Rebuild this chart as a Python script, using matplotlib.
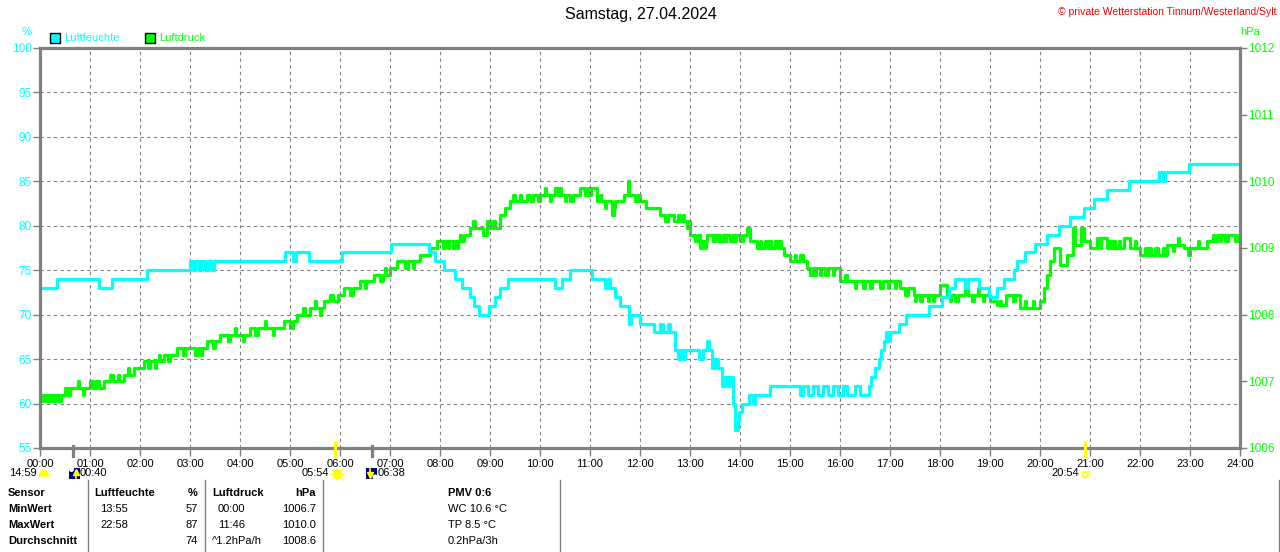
import matplotlib.pyplot as plt
from matplotlib.patches import Rectangle, Circle

plt.rcParams['font.family'] = ['Liberation Sans', 'DejaVu Sans']

CYAN = '#00ffff'
GREEN = '#00ff00'
GRAY = '#808080'
YELLOW = '#ffff00'
NAVY = '#000080'

title = 'Samstag, 27.04.2024'
credit = '\u00a9 private Wetterstation Tinnum/Westerland/Sylt'

hours = list(range(25))
hour_labels = ['%02d:00' % h for h in hours]
hum_ticks = list(range(55, 101, 5))
press_ticks = list(range(1006, 1013))

# humidity (%), step changes: time in hours
hum_time = [0.00, 0.33, 1.17, 1.43, 2.13, 3.00, 3.05, 3.10, 3.17, 3.22, 3.30, 3.35, 3.42, 3.47,
            4.90, 5.05, 5.12, 5.37, 6.03, 7.02, 7.77, 7.90, 8.07, 8.30, 8.45, 8.60, 8.67, 8.77,
            8.98, 9.10, 9.20, 9.37, 10.30, 10.43, 10.60, 11.03, 11.30, 11.35, 11.40, 11.50, 11.60,
            11.77, 11.82, 12.00, 12.27, 12.40, 12.45, 12.55, 12.60, 12.70, 12.75, 12.80, 12.85,
            12.90, 13.17, 13.25, 13.33, 13.38, 13.43, 13.50, 13.55, 13.63, 13.70, 13.75, 13.80,
            13.85, 13.90, 13.95, 13.97, 14.03, 14.17, 14.25, 14.30, 14.60, 15.20, 15.25, 15.35,
            15.45, 15.55, 15.65, 15.75, 15.85, 15.95, 16.05, 16.15, 16.30, 16.40, 16.57, 16.62,
            16.70, 16.77, 16.83, 16.87, 16.92, 16.95, 17.00, 17.17, 17.33, 17.78, 18.03, 18.17,
            18.30, 18.50, 18.56, 18.77, 18.97, 19.13, 19.27, 19.47, 19.53, 19.70, 19.90, 20.13,
            20.37, 20.60, 20.87, 21.07, 21.33, 21.77, 22.37, 22.45, 22.50, 22.97, 24.00]
hum_value = [73, 74, 73, 74, 75, 76, 75, 76, 75, 76, 75, 76, 75, 76,
             77, 76, 77, 76, 77, 78, 77, 76, 75, 74, 73, 72, 71, 70,
             71, 72, 73, 74, 73, 74, 75, 74, 73, 74, 73, 72, 71,
             69, 70, 69, 68, 69, 68, 69, 68, 66, 65, 66, 65,
             66, 65, 66, 67, 66, 64, 65, 64, 62, 63, 62, 63,
             60, 57, 58, 59, 60, 61, 60, 61, 62, 61, 62, 61,
             62, 61, 62, 61, 62, 61, 62, 61, 62, 61, 62, 63,
             64, 65, 66, 67, 68, 67, 68, 69, 70, 71, 72, 73,
             74, 73, 74, 73, 72, 73, 74, 75, 76, 77, 78, 79,
             80, 81, 82, 83, 84, 85, 86, 85, 86, 87, 87]

# air pressure (hPa), main level changes
press_time = [0.00, 0.05, 0.10, 0.17, 0.22, 0.30, 0.35, 0.42, 0.50, 0.55, 0.60, 0.67, 1.00, 1.05,
              1.12, 1.18, 1.27, 1.40, 1.45, 1.67, 1.87, 2.07, 2.15, 2.20, 2.47, 2.55, 2.60, 2.73,
              2.85, 2.90, 3.10, 3.15, 3.33, 3.45, 3.50, 3.60, 3.75, 3.80, 4.20, 4.30, 4.35, 4.87,
              5.00, 5.05, 5.13, 5.25, 5.30, 5.40, 5.67, 5.80, 5.85, 5.95, 6.07, 6.20, 6.25, 6.40,
              6.67, 6.80, 6.85, 7.00, 7.13, 7.30, 7.35, 7.60, 7.80, 7.93, 8.05, 8.10, 8.25, 8.30,
              8.47, 8.60, 8.65, 8.70, 8.87, 8.93, 9.00, 9.05, 9.10, 9.20, 9.30, 9.40, 9.45, 9.50,
              9.73, 9.80, 9.85, 9.95, 10.00, 10.30, 10.35, 10.60, 10.65, 10.80, 10.90, 10.95,
              11.13, 11.43, 11.48, 11.50, 11.67, 11.75, 11.78, 11.90, 11.95, 12.00, 12.27, 12.40,
              12.50, 12.55, 12.67, 12.75, 12.80, 13.00, 13.10, 13.15, 13.20, 13.23, 13.33, 13.45,
              13.50, 13.60, 13.65, 13.80, 13.85, 14.00, 14.05, 14.13, 14.20, 14.33, 14.50, 14.55,
              14.70, 14.75, 14.87, 15.00, 15.20, 15.25, 15.33, 15.40, 15.45, 15.70, 15.75, 16.00,
              16.10, 16.15, 16.45, 16.50, 16.60, 16.65, 16.80, 16.85, 17.20, 17.30, 17.35, 17.47,
              17.60, 17.65, 18.00, 18.13, 18.30, 18.35, 18.50, 18.55, 19.00, 19.13, 19.33, 19.45,
              19.50, 19.60, 20.00, 20.07, 20.13, 20.20, 20.27, 20.40, 20.53, 20.65, 20.70, 20.82,
              20.87, 21.00, 21.13, 21.33, 21.45, 21.50, 21.67, 21.80, 22.00, 22.10, 22.15, 22.30,
              22.35, 22.53, 22.87, 22.95, 23.00, 23.33, 23.53, 23.70, 23.75, 23.90, 23.95, 24.00]
press_value = [1006.7, 1006.8, 1006.7, 1006.8, 1006.7, 1006.8, 1006.7, 1006.8, 1006.9, 1006.8, 1006.9, 1006.9, 1007.0, 1006.9,
               1007.0, 1006.9, 1007.0, 1007.1, 1007.0, 1007.1, 1007.2, 1007.3, 1007.2, 1007.3, 1007.4, 1007.3, 1007.4, 1007.5,
               1007.4, 1007.5, 1007.4, 1007.5, 1007.6, 1007.5, 1007.6, 1007.7, 1007.6, 1007.7, 1007.8, 1007.7, 1007.8, 1007.9,
               1007.8, 1007.9, 1008.0, 1008.1, 1008.0, 1008.1, 1008.2, 1008.3, 1008.2, 1008.3, 1008.4, 1008.3, 1008.4, 1008.5,
               1008.6, 1008.5, 1008.6, 1008.7, 1008.8, 1008.7, 1008.8, 1008.9, 1009.0, 1009.1, 1009.0, 1009.1, 1009.0, 1009.1,
               1009.2, 1009.3, 1009.4, 1009.3, 1009.2, 1009.4, 1009.3, 1009.4, 1009.3, 1009.5, 1009.6, 1009.7, 1009.8, 1009.7,
               1009.8, 1009.7, 1009.8, 1009.7, 1009.8, 1009.9, 1009.8, 1009.7, 1009.8, 1009.9, 1009.8, 1009.9,
               1009.7, 1009.5, 1009.6, 1009.7, 1009.8, 1010.0, 1009.8, 1009.7, 1009.8, 1009.7, 1009.6, 1009.5,
               1009.4, 1009.5, 1009.4, 1009.5, 1009.4, 1009.2, 1009.1, 1009.2, 1009.0, 1009.1, 1009.2, 1009.1,
               1009.2, 1009.1, 1009.2, 1009.1, 1009.2, 1009.1, 1009.2, 1009.3, 1009.1, 1009.0, 1009.1, 1009.0,
               1009.1, 1009.0, 1008.9, 1008.8, 1008.9, 1008.8, 1008.7, 1008.6, 1008.7, 1008.6, 1008.7, 1008.5,
               1008.6, 1008.5, 1008.4, 1008.5, 1008.4, 1008.5, 1008.4, 1008.5, 1008.4, 1008.3, 1008.4, 1008.3,
               1008.2, 1008.3, 1008.45, 1008.3, 1008.2, 1008.3, 1008.4, 1008.3, 1008.2, 1008.15, 1008.3, 1008.2,
               1008.3, 1008.1, 1008.2, 1008.4, 1008.6, 1008.8, 1009.0, 1008.75, 1008.9, 1009.3, 1009.05, 1009.3,
               1009.1, 1009.0, 1009.15, 1009.0, 1009.1, 1009.0, 1009.15, 1009.0, 1008.9, 1009.0, 1008.9, 1009.0,
               1008.9, 1009.05, 1009.0, 1008.9, 1009.0, 1009.1, 1009.2, 1009.1, 1009.2, 1009.1, 1009.2, 1009.2]

# short flickers of the pressure reading (out and back)
press_extra_time = [0.02, 0.04, 0.13, 0.15, 0.25, 0.27, 0.38, 0.40, 0.75, 0.77, 0.85, 0.87,
                    1.55, 1.57, 1.75, 1.77, 2.30, 2.32, 2.38, 2.40, 3.22, 3.24, 3.90, 3.92,
                    4.05, 4.07, 4.50, 4.52, 4.65, 4.67, 5.50, 5.52, 5.60, 5.62, 6.50, 6.52,
                    6.90, 6.92, 7.45, 7.47, 8.15, 8.17, 8.35, 8.37, 8.40, 8.42, 9.60, 9.62,
                    10.10, 10.12, 10.20, 10.22, 10.40, 10.42, 10.50, 10.52, 11.00, 11.02,
                    11.20, 11.22, 11.30, 11.32, 12.10, 12.12, 12.85, 12.87, 12.93, 12.95,
                    13.30, 13.32, 13.55, 13.57, 13.70, 13.72, 13.90, 13.92, 14.40, 14.42,
                    14.60, 14.62, 14.80, 14.82, 15.10, 15.12, 15.50, 15.52, 15.60, 15.62,
                    15.85, 15.87, 16.30, 16.32, 16.95, 16.97, 17.10, 17.12, 17.50, 17.52,
                    17.75, 17.77, 17.85, 17.87, 18.20, 18.22, 18.65, 18.67, 18.75, 18.77,
                    18.85, 18.87, 19.20, 19.22, 19.70, 19.72, 19.85, 19.87, 21.20, 21.22,
                    21.40, 21.42, 21.58, 21.60, 21.90, 21.92, 22.20, 22.22, 22.45, 22.47,
                    22.65, 22.67, 22.75, 22.77, 23.15, 23.17, 23.45, 23.47, 23.60, 23.62]
press_extra_value = [1006.8, 1006.7, 1006.8, 1006.7, 1006.8, 1006.7, 1006.8, 1006.7, 1007.0, 1006.9, 1006.8, 1006.9,
                     1007.1, 1007.0, 1007.2, 1007.1, 1007.2, 1007.3, 1007.4, 1007.3, 1007.4, 1007.5, 1007.8, 1007.7,
                     1007.6, 1007.7, 1007.9, 1007.8, 1007.7, 1007.8, 1008.2, 1008.1, 1008.0, 1008.1, 1008.4, 1008.5,
                     1008.7, 1008.6, 1008.7, 1008.8, 1009.0, 1009.1, 1009.0, 1009.1, 1009.2, 1009.1, 1009.8, 1009.7,
                     1009.9, 1009.8, 1009.7, 1009.8, 1009.9, 1009.8, 1009.7, 1009.8, 1009.8, 1009.9,
                     1009.8, 1009.7, 1009.6, 1009.7, 1009.7, 1009.6, 1009.5, 1009.4, 1009.3, 1009.4,
                     1009.0, 1009.1, 1009.1, 1009.2, 1009.1, 1009.2, 1009.1, 1009.2, 1009.1, 1009.0,
                     1009.1, 1009.0, 1009.1, 1009.0, 1008.9, 1008.8, 1008.6, 1008.7, 1008.6, 1008.7,
                     1008.6, 1008.7, 1008.4, 1008.5, 1008.4, 1008.5, 1008.4, 1008.5, 1008.2, 1008.3,
                     1008.2, 1008.3, 1008.2, 1008.3, 1008.2, 1008.3, 1008.2, 1008.3, 1008.4, 1008.3,
                     1008.2, 1008.3, 1008.2, 1008.15, 1008.2, 1008.1, 1008.2, 1008.1, 1009.0, 1009.15,
                     1009.1, 1009.0, 1009.1, 1009.0, 1009.1, 1009.0, 1009.0, 1008.9, 1009.0, 1008.9,
                     1008.95, 1009.05, 1009.15, 1009.05, 1009.1, 1009.0, 1009.2, 1009.1, 1009.1, 1009.2]

# rise/set events below the time axis
moon_events = [0 + 40 / 60, 6 + 38 / 60]
sun_events = [5 + 54 / 60, 20 + 54 / 60]

table_rows = [
    ['Sensor', 'Luftfeuchte', '%', 'Luftdruck', 'hPa', 'PMV 0:6'],
    ['MinWert', '13:55', '57', '00:00', '1006.7', 'WC 10.6 \u00b0C'],
    ['MaxWert', '22:58', '87', '11:46', '1010.0', 'TP 8.5 \u00b0C'],
    ['Durchschnitt', '', '74', '^1.2hPa/h', '1008.6', '0.2hPa/3h'],
]

# merge the flicker readings into the pressure series
press = sorted(zip(press_time + press_extra_time, press_value + press_extra_value))
p_t = [p[0] for p in press]
p_v = [p[1] for p in press]

fig = plt.figure(figsize=(12.8, 5.52), dpi=100)
ax = fig.add_axes([40 / 1280, 104 / 552, 1200 / 1280, 400 / 552])
ax2 = ax.twinx()

ax.plot(hum_time, hum_value, color=CYAN, lw=2.3, drawstyle='steps-post')
ax2.plot(p_t, p_v, color=GREEN, lw=2.3, drawstyle='steps-post')

ax.set_xlim(0, 24)
ax.set_ylim(55, 100)
ax2.set_ylim(1006, 1012)
ax.set_xticks(hours)
ax.set_xticklabels(hour_labels)
ax.set_yticks(hum_ticks)
ax2.set_yticks(press_ticks)

ax.tick_params(axis='x', length=6, width=1, color=GRAY, pad=2, labelsize=8, labelcolor='black')
ax.tick_params(axis='y', length=5, width=1, color=GRAY, pad=1, labelsize=8.5, labelcolor=CYAN)
ax2.tick_params(axis='y', length=5, width=1, color=GRAY, pad=1, labelsize=8.5, labelcolor=GREEN)
ax.grid(True, color=GRAY, linestyle=(0, (3, 3)), linewidth=0.8)

for sp in ax.spines.values():
    sp.set_color(GRAY)
    sp.set_linewidth(2.3)
for sp in ax2.spines.values():
    sp.set_visible(False)
ax.set_zorder(ax2.get_zorder() + 1)
ax.patch.set_visible(False)

trans = ax.get_xaxis_transform()
for t in moon_events:
    ax.plot([t, t], [0.006, -0.02], color=GRAY, lw=2.3, transform=trans, clip_on=False, zorder=5)
for t in sun_events:
    ax.plot([t, t], [0.0125, -0.02], color=YELLOW, lw=2.3, transform=trans, clip_on=False, zorder=5)

# overlay in pixel coordinates for texts and icons
ov = fig.add_axes([0, 0, 1, 1])
ov.set_xlim(0, 1280)
ov.set_ylim(552, 0)
ov.axis('off')

ov.text(641, 15, title, ha='center', va='center', fontsize=11.5)
ov.text(1276, 12, credit, ha='right', va='center', fontsize=7.5, color='red')
ov.text(27, 32, '%', ha='center', va='center', fontsize=8, color=CYAN)
ov.text(1250, 32, 'hPa', ha='center', va='center', fontsize=8, color=GREEN)

ov.add_patch(Rectangle((50, 33), 10, 10, facecolor=CYAN, edgecolor='black', lw=1))
ov.text(64, 38, 'Luftfeuchte', ha='left', va='center', fontsize=8, color=CYAN)
ov.add_patch(Rectangle((145, 33), 10, 10, facecolor=GREEN, edgecolor='black', lw=1))
ov.text(159, 38, 'Luftdruck', ha='left', va='center', fontsize=8, color=GREEN)

# event labels and icons
ov.text(37, 473, '14:59', ha='right', va='center', fontsize=8)
ov.fill([39, 41, 44, 47, 49], [476, 472, 470, 472, 476], color=YELLOW)
ov.add_patch(Rectangle((68.5, 467.5), 11, 11, facecolor=NAVY, edgecolor='none'))
ov.add_patch(Circle((71.5, 469.5), 1.8, color='white'))
ov.plot([76, 76], [471, 478], color=YELLOW, lw=1.2)
ov.plot([76], [471.5], marker='^', color=YELLOW, ms=4)
ov.text(80, 473, '00:40', ha='left', va='center', fontsize=8)

ov.text(329, 473, '05:54', ha='right', va='center', fontsize=8)
ov.plot([336.5], [473.5], marker='o', color=YELLOW, ms=6)
ov.plot([336.5], [473.5], marker='+', color=YELLOW, ms=10, mew=0.8)
ov.plot([336.5], [473.5], marker='x', color=YELLOW, ms=8, mew=0.8)

ov.add_patch(Rectangle((366, 467.5), 11, 11, facecolor=NAVY, edgecolor='none'))
ov.add_patch(Circle((375, 477), 1.8, color='white'))
ov.plot([369.5, 369.5], [468, 475], color=YELLOW, lw=1.2)
ov.plot([369.5], [474.5], marker='v', color=YELLOW, ms=4)
ov.text(378, 473, '06:38', ha='left', va='center', fontsize=8)

ov.text(1079, 473, '20:54', ha='right', va='center', fontsize=8)
ov.add_patch(Rectangle((1083, 472), 5, 5, facecolor='none', edgecolor=YELLOW, lw=1.2))

# summary table
for x in [88, 205, 323, 560, 1279]:
    ov.plot([x, x], [480, 552], color=GRAY, lw=1)

row_y = [493, 509, 525, 541]
for i, row in enumerate(table_rows):
    y = row_y[i]
    bold = 'bold' if i == 0 else 'normal'
    ov.text(8, y, row[0], ha='left', va='center', fontsize=8, fontweight='bold')
    ov.text(94 if i == 0 else 100, y, row[1], ha='left', va='center', fontsize=8, fontweight=bold)
    ov.text(198, y, row[2], ha='right', va='center', fontsize=8, fontweight=bold)
    x3 = 212 if i in (0, 3) else 218
    ov.text(x3, y, row[3], ha='left', va='center', fontsize=8, fontweight=bold)
    ov.text(316, y, row[4], ha='right', va='center', fontsize=8, fontweight=bold)
    ov.text(448, y, row[5], ha='left', va='center', fontsize=8, fontweight=bold)

fig.savefig('out.png', dpi=100)
